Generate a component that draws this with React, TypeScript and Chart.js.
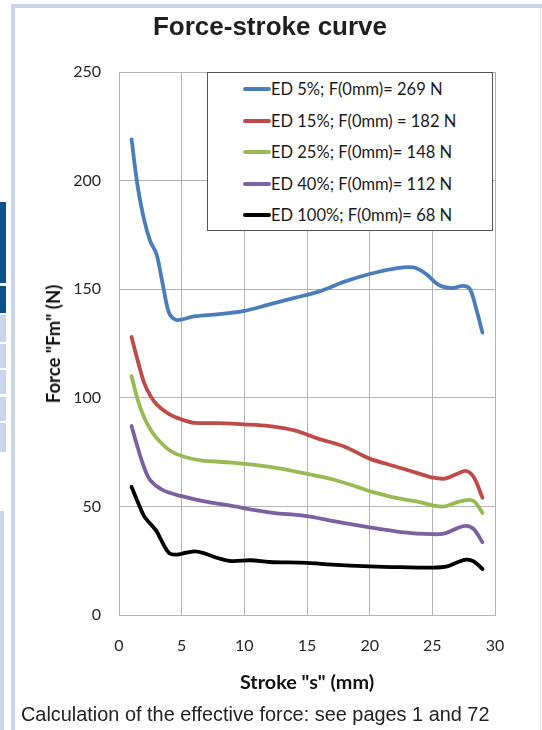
import React, { useEffect, useRef } from "react";
import { Chart, registerables } from "chart.js";

Chart.register(...registerables);

const chartTitle = "Force-stroke curve";
const yAxisTitle = 'Force "Fm" (N)';
const xAxisTitle = 'Stroke "s" (mm)';
const caption = "Calculation of the effective force: see pages 1 and 72";

const seriesLabels = [
  "ED 5%; F(0mm)= 269 N",
  "ED 15%; F(0mm) = 182 N",
  "ED 25%; F(0mm)= 148 N",
  "ED 40%; F(0mm)= 112 N",
  "ED 100%; F(0mm)= 68 N",
];
const seriesColors = ["#4a7ebb", "#be4b48", "#98b954", "#7d60a0", "#000000"];

const ed5X = [1, 1.5, 2, 2.5, 3, 3.5, 4, 4.5, 5, 6, 8, 10, 12, 14, 16, 18, 20, 22, 23.5, 24.5, 25.5, 26.5, 27.5, 28, 28.5, 29];
const ed5Y = [219, 197, 182, 172, 166, 152, 139, 136, 136, 137.5, 138.5, 140, 143, 146, 149, 153.5, 157, 159.5, 160, 157, 152, 150.5, 151.5, 150, 141, 130];

const ed15X = [1, 1.5, 2, 2.5, 3, 4, 5, 6, 8, 10, 12, 14, 16, 18, 20, 22, 24, 25, 26, 27, 27.7, 28.3, 29];
const ed15Y = [128, 117, 107, 101, 97, 92.5, 90, 88.5, 88.3, 87.8, 87, 85, 81, 77.5, 72, 68.5, 65, 63.3, 62.8, 65, 66.3, 63.5, 54];

const ed25X = [1, 1.5, 2, 2.5, 3, 4, 5, 6.5, 9, 11, 13, 15, 17, 19, 20, 22, 24, 25, 26, 27, 28, 28.4, 29];
const ed25Y = [110, 99, 91, 85.5, 81.5, 76, 73.2, 71.2, 70.2, 69, 67.3, 65, 62.5, 59, 57, 54, 52, 50.5, 50, 52, 53, 52, 47];

const ed40X = [1, 1.5, 2, 2.5, 3.5, 5, 6.5, 9, 12, 15, 17, 20, 22.5, 25, 26, 27, 27.7, 28.3, 29];
const ed40Y = [87, 77, 68, 62, 57.5, 54.7, 52.7, 50.2, 47.3, 45.5, 43.3, 40.3, 38.2, 37.2, 37.6, 40, 41, 39.5, 33.5];

const ed100X = [1, 1.5, 2, 2.5, 3, 3.5, 4, 4.5, 5, 6, 6.7, 8, 9, 10.5, 12, 15, 17, 20, 22.5, 25, 26.2, 27, 27.7, 28.3, 29];
const ed100Y = [59, 52, 45.5, 42, 38.5, 33, 28.5, 27.8, 28.2, 29.3, 28.6, 26, 24.8, 25.2, 24.4, 24, 23.2, 22.4, 22, 21.8, 22.4, 24.3, 25.5, 24.7, 21.2];

const seriesX = [ed5X, ed15X, ed25X, ed40X, ed100X];
const seriesY = [ed5Y, ed15Y, ed25Y, ed40Y, ed100Y];

const xMin = 0;
const xMax = 30;
const xStep = 5;
const yMin = 0;
const yMax = 250;
const yStep = 50;

const CALIBRI = "Lato, 'Noto Sans', sans-serif";
const ARIAL = "'Liberation Sans', Arial, sans-serif";

export default function App() {
  const canvasRef = useRef<HTMLCanvasElement | null>(null);

  useEffect(() => {
    const canvas = canvasRef.current;
    if (!canvas) return;
    const datasets = seriesLabels.map((label, i) => ({
      label,
      data: seriesX[i].map((x, j) => ({ x, y: seriesY[i][j] })),
      borderColor: seriesColors[i],
      backgroundColor: seriesColors[i],
      borderWidth: 3.8,
      pointRadius: 0,
      tension: 0.35,
      borderCapStyle: "round" as const,
      borderJoinStyle: "round" as const,
      fill: false,
    }));
    const chart = new Chart(canvas, {
      type: "line",
      data: { datasets },
      options: {
        animation: false,
        responsive: false,
        devicePixelRatio: 1,
        layout: { padding: { left: 0, right: 47, top: 72, bottom: 0 } },
        plugins: {
          legend: { display: false },
          title: { display: false },
          tooltip: { enabled: false },
        },
        scales: {
          x: {
            type: "linear",
            min: xMin,
            max: xMax,
            ticks: {
              stepSize: xStep,
              padding: 21,
              color: "#262626",
              font: { family: CALIBRI, size: 16 },
              maxRotation: 0,
            },
            grid: { color: "#b3b3b3", lineWidth: 1, drawTicks: false },
            border: { color: "#b3b3b3", width: 1 },
            afterFit: (scale: any) => {
              scale.height = 115;
            },
          },
          y: {
            type: "linear",
            min: yMin,
            max: yMax,
            ticks: {
              stepSize: yStep,
              padding: 18,
              color: "#262626",
              font: { family: CALIBRI, size: 16 },
            },
            grid: { color: "#b3b3b3", lineWidth: 1, drawTicks: false },
            border: { color: "#b3b3b3", width: 1 },
            afterFit: (scale: any) => {
              scale.width = 119;
            },
          },
        },
      },
    });
    return () => chart.destroy();
  }, []);

  const abs = (s: React.CSSProperties): React.CSSProperties => ({ position: "absolute", ...s });
  const borderBlue = "#c9d5eb";
  const darkBlue = "#0d5189";

  return (
    <div style={abs({ position: "fixed", left: 0, top: 0, width: 542, height: 730, background: "#fff", overflow: "hidden" })}>
      {/* page decorations */}
      <div style={abs({ left: 11, top: 4, width: 531, height: 4, background: borderBlue })} />
      <div style={abs({ left: 11, top: 4, width: 4, height: 726, background: borderBlue })} />
      <div style={abs({ left: 540, top: 8, width: 1, height: 722, background: "#e4e9f3" })} />
      <div style={abs({ left: 0, top: 202, width: 6, height: 81, background: darkBlue })} />
      <div style={abs({ left: 0, top: 286, width: 6, height: 27, background: darkBlue })} />
      <div style={abs({ left: 0, top: 315, width: 6, height: 27, background: borderBlue })} />
      <div style={abs({ left: 0, top: 344, width: 6, height: 24, background: borderBlue })} />
      <div style={abs({ left: 0, top: 370, width: 6, height: 24, background: borderBlue })} />
      <div style={abs({ left: 0, top: 397, width: 6, height: 24, background: borderBlue })} />
      <div style={abs({ left: 0, top: 423, width: 6, height: 29, background: borderBlue })} />
      <div style={abs({ left: 0, top: 511, width: 4, height: 219, background: borderBlue })} />

      <canvas ref={canvasRef} width={542} height={730} style={abs({ left: 0, top: 0, width: 542, height: 730 })} />

      {/* title */}
      <div style={abs({ left: 0, top: 26, width: 540, textAlign: "center", transform: "translateY(-50%)", font: `bold 26px ${ARIAL}`, lineHeight: "30px", color: "#1f1f1f", whiteSpace: "nowrap" })}>
        {chartTitle}
      </div>

      {/* y axis title */}
      <div style={abs({ left: 53, top: 344, transform: "translate(-50%, -50%) rotate(-90deg)", font: `bold 18.5px ${CALIBRI}`, lineHeight: "22px", color: "#111", whiteSpace: "nowrap" })}>
        {yAxisTitle}
      </div>

      {/* x axis title */}
      <div style={abs({ left: 307, top: 681, transform: "translate(-50%, -50%)", font: `bold 19.8px ${CALIBRI}`, lineHeight: "22px", color: "#111", whiteSpace: "nowrap" })}>
        {xAxisTitle}
      </div>

      {/* legend */}
      <div style={abs({ left: 207, top: 72, width: 286, height: 159, boxSizing: "border-box", border: "1px solid #555", background: "#fff" })}>
        {seriesLabels.map((label, i) => (
          <div key={label} style={abs({ left: 0, top: 16 + i * 31.6, width: 284, height: 0 })}>
            <div style={abs({ left: 35, top: -2, width: 28, height: 4, borderRadius: 2, background: seriesColors[i] })} />
            <div style={abs({ left: 63, top: 0, transform: "translateY(-50%)", font: `16.5px ${CALIBRI}`, lineHeight: "20px", color: "#1a1a1a", whiteSpace: "nowrap" })}>
              {label}
            </div>
          </div>
        ))}
      </div>

      {/* caption */}
      <div style={abs({ left: 21, top: 714, transform: "translateY(-50%)", font: `19.9px ${ARIAL}`, lineHeight: "22px", color: "#222", whiteSpace: "nowrap" })}>
        {caption}
      </div>
    </div>
  );
}
